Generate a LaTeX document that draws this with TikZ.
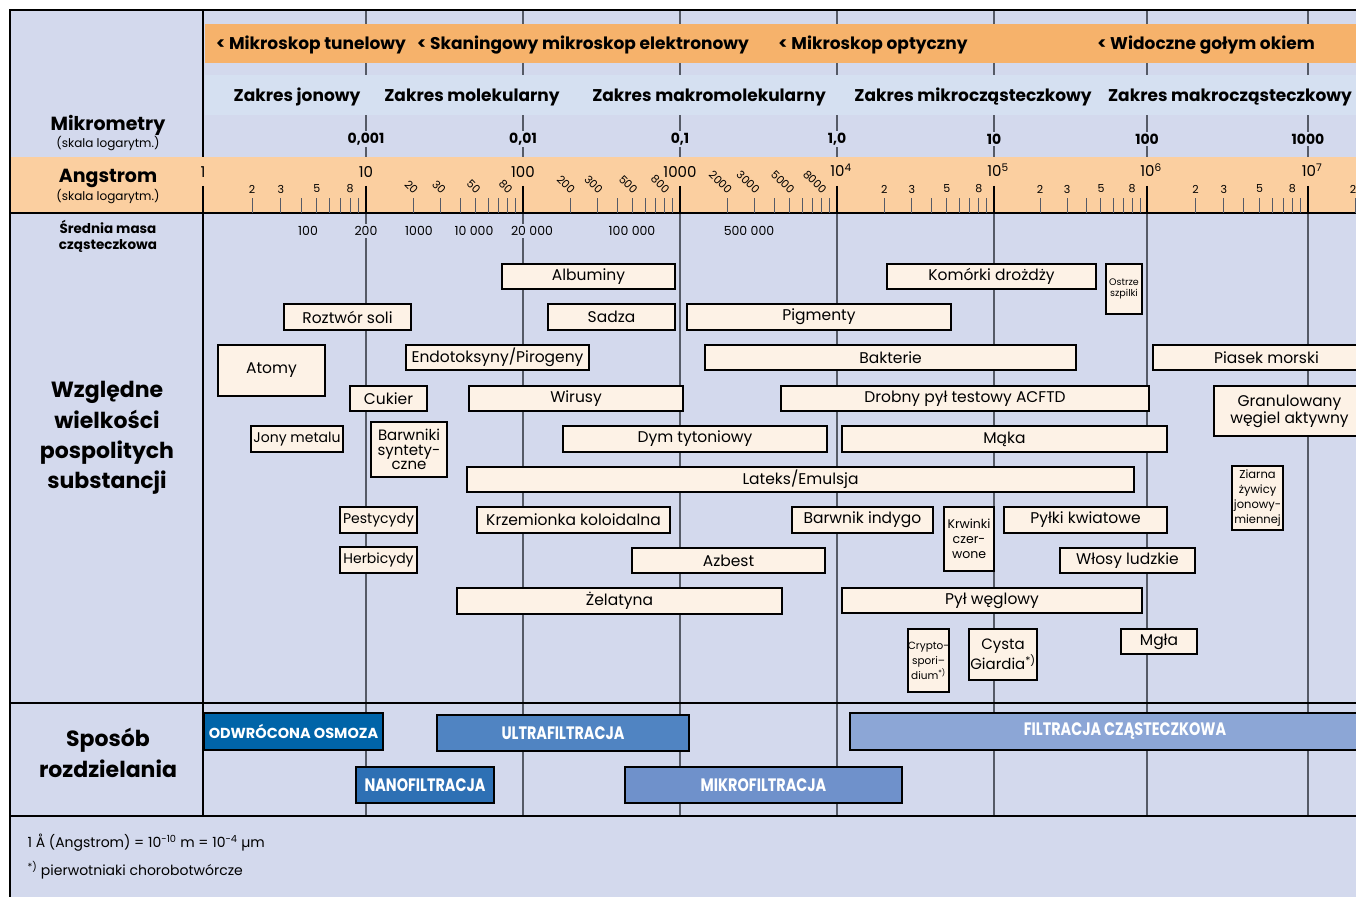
\documentclass[tikz,border=0pt]{standalone}
\usepackage{fontspec}
\setmainfont{Poppins}
\newfontfamily\sepfont{Poppins}[FakeStretch=0.8]
\usetikzlibrary{positioning}

\definecolor{bgblue}{HTML}{D3D9ED}
\definecolor{bandorange}{HTML}{F6B26B}
\definecolor{bandlight}{HTML}{D5E0F1}
\definecolor{bandangstrom}{HTML}{FBCFA0}
\definecolor{cream}{HTML}{FDF2E6}
\definecolor{linegray}{HTML}{555A66}
\definecolor{osmoza}{HTML}{0064A8}
\definecolor{nano}{HTML}{2E70B4}
\definecolor{ultra}{HTML}{5084C2}
\definecolor{mikro}{HTML}{6F91CB}
\definecolor{filtr}{HTML}{8CA6D6}

\tikzset{
  substbox/.style={draw=black, line width=1.5pt, fill=cream, inner sep=0pt,
    align=center, font=\fontsize{15.5}{17}\selectfont},
  sepbox/.style={draw=black, line width=1.5pt, inner sep=0pt, text=white,
    font=\sepfont\bfseries\fontsize{18}{20}\selectfont},
  decline/.style={draw=linegray, line width=1.1pt},
  majortick/.style={draw=black, line width=1.6pt},
  subtick/.style={draw=linegray, line width=1pt},
  headlbl/.style={font=\bfseries\fontsize{17}{20}\selectfont},
  mikrolbl/.style={font=\bfseries\fontsize{14}{16}\selectfont, fill=bgblue, inner sep=2pt},
  angstlbl/.style={font=\fontsize{15}{16}\selectfont, inner sep=0pt},
  sublbl/.style={font=\fontsize{11}{12}\selectfont, inner sep=0pt},
  masslbl/.style={font=\fontsize{12.5}{14}\selectfont, fill=bgblue, inner sep=2pt},
  sidelbl/.style={font=\bfseries\fontsize{19}{21}\selectfont, align=center},
  sidesmall/.style={font=\fontsize{12}{14}\selectfont},
  notelbl/.style={font=\fontsize{14}{16}\selectfont, anchor=west}
}

% box from corners: [options]{name}{x1}{y1}{x2}{y2}{text}
\newcommand{\subst}[7][]{%
  \pgfmathsetmacro\bw{#5-#3}\pgfmathsetmacro\bh{#6-#4}%
  \node[substbox, minimum width=\bw pt, minimum height=\bh pt, #1]
    (#2) at ({(#3+#5)/2},{(#4+#6)/2}) {#7};}
\newcommand{\sepa}[7][]{%
  \pgfmathsetmacro\bw{#5-#3}\pgfmathsetmacro\bh{#6-#4}%
  \node[sepbox, minimum width=\bw pt, minimum height=\bh pt, #1]
    (#2) at ({(#3+#5)/2},{(#4+#6)/2}) {#7};}

\begin{document}
\begin{tikzpicture}[x=1pt,y=-1pt]
  \useasboundingbox (0,0) rectangle (1356,896);
  \clip (0,0) rectangle (1356,896);
  \fill[white] (0,0) rectangle (1356,896);
  \fill[bgblue] (10,10) rectangle (1400,920);

  % decade lines
  \draw[line width=1.5pt] (203,10) -- (203,816);
  \foreach \d in {366,523,680,837,994,1147,1308}
    \draw[decline] (\d,10) -- (\d,816);

  % bands
  \fill[bandorange] (205,24) rectangle (1400,63);
  \fill[bandlight] (205,75) rectangle (1400,115);
  \fill[bandangstrom] (10,157) rectangle (1400,213);

  % frame and rules
  \draw[line width=1.5pt] (10,920) -- (10,10) -- (1400,10);
  \draw[line width=1.2pt] (10,213) -- (1400,213);
  \draw[line width=1.2pt] (10,703) -- (1400,703);
  \draw[line width=1.2pt] (10,816) -- (1400,816);

  % microscopes and ranges
  \node[headlbl] (tunel) at (311,45) {< Mikroskop tunelowy};
  \node[headlbl] (skan) at (583,45) {< Skaningowy mikroskop elektronowy};
  \node[headlbl] (opt) at (873,45) {< Mikroskop optyczny};
  \node[headlbl] (oko) at (1206,45) {< Widoczne gołym okiem};
  \node[headlbl] (jon) at (297,97) {Zakres jonowy};
  \node[headlbl] (mol) at (472,97) {Zakres molekularny};
  \node[headlbl] (makromol) at (709,97) {Zakres makromolekularny};
  \node[headlbl] (mikrocz) at (973,97) {Zakres mikrocząsteczkowy};
  \node[headlbl] (makrocz) at (1230,97) {Zakres makrocząsteczkowy};

  % micrometres
  \foreach \d/\t [count=\i] in {366/{0,001},523/{0,01},680/{0,1},837/{1,0},994/10,1147/100,1308/1000}
    \node[mikrolbl] (um\i) at (\d,139) {\t};

  % angstrom scale
  \foreach \d/\w [count=\k] in {203/163,366/157,523/157,680/157,837/157,994/153,1147/161,1308/158}
    \foreach \m in {2,...,9}
      \draw[subtick] ({\d+\w*ln(\m)/ln(10)},198) -- ({\d+\w*ln(\m)/ln(10)},213);
  \foreach \d in {203,366,523,680,837,994,1147,1308}
    \draw[majortick] (\d,186) -- (\d,213);
  \foreach \d/\w [count=\k] in {203/163,837/157,994/153,1147/161}
    \foreach \m in {2,3,5,8}
      \node[sublbl] (s\k-\m) at ({\d+\w*ln(\m)/ln(10)},189) {\m};
  \node[sublbl] (s5-2) at (1353,189) {2};
  \foreach \d/\w/\z [count=\k] in {366/157/0,523/157/00,680/157/000}
    \foreach \m in {2,3,5,8}
      \node[sublbl, rotate=-45, anchor=east] (r\k-\m) at ({\d+\w*ln(\m)/ln(10)+3},192) {\m\z};
  \node[angstlbl] (a0) at (203,172) {1};
  \node[angstlbl] (a1) at (366,172) {10};
  \node[angstlbl] (a2) at (523,172) {100};
  \node[angstlbl] (a3) at (680,172) {1000};
  \foreach \d/\e in {837/4,994/5,1147/6,1308/7}
    \node[angstlbl] (a\e) at (\d+4,170) {10\textsuperscript{\e}};

  % molecular mass
  \foreach \x/\t [count=\i] in {308/100,366/200,419/1000,474/10 000,532/20 000,632/100 000,749/500 000}
    \node[masslbl] (m\i) at (\x,231) {\t};

  % side labels
  \node[sidelbl] (mikrometry) at (108,125) {Mikrometry};
  \node[sidesmall] (skala1) at (108,144) {(skala logarytm.)};
  \node[sidelbl] (angstrom) at (108,178) {Angstrom};
  \node[sidesmall] (skala2) at (108,197) {(skala logarytm.)};
  \node[sidelbl, font=\bfseries\fontsize{13.5}{16}\selectfont] (masa) at (108,236) {Średnia masa\\cząsteczkowa};
  \node[sidelbl, font=\bfseries\fontsize{22}{30.3}\selectfont] (wzgl) at (107,438) {Względne\\wielkości\\pospolitych\\substancji};
  \node[sidelbl, font=\bfseries\fontsize{22}{31}\selectfont] (sposob) at (108,753) {Sposób\\rozdzielania};

  % substances
  \subst{albuminy}{502}{264}{675}{289}{Albuminy}
  \subst{drozdze}{887}{264}{1096}{289}{Komórki drożdży}
  \subst[font=\fontsize{9.5}{10.5}\selectfont]{szpilka}{1106}{264}{1142}{314}{Ostrze\\szpilki}
  \subst{sol}{284}{304}{411}{330}{Roztwór soli}
  \subst{sadza}{548}{304}{675}{330}{Sadza}
  \subst{pigmenty}{687}{304}{951}{330}{Pigmenty}
  \subst{atomy}{218}{345}{325}{396}{Atomy}
  \subst{endotoksyny}{406}{345}{589}{370}{Endotoksyny/Pirogeny}
  \subst{bakterie}{705}{345}{1076}{370}{Bakterie}
  \subst{piasek}{1153}{345}{1380}{370}{Piasek morski}
  \subst{cukier}{350}{386}{427}{411}{Cukier}
  \subst{wirusy}{469}{386}{683}{411}{Wirusy}
  \subst{acftd}{781}{386}{1149}{411}{Drobny pył testowy ACFTD}
  \subst[font=\fontsize{15.5}{17}\selectfont]{wegiel}{1214}{386}{1365}{436}{Granulowany\\węgiel aktywny}
  \subst[font=\fontsize{14}{16}\selectfont]{jony}{251}{426}{343}{452}{Jony metalu}
  \subst[font=\fontsize{15}{14.5}\selectfont]{barwniki}{371}{422}{447}{477}{Barwniki\\syntety-\\czne}
  \subst{dym}{563}{426}{827}{452}{Dym tytoniowy}
  \subst{maka}{842}{426}{1167}{452}{Mąka}
  \subst{lateks}{467}{467}{1134}{492}{Lateks/Emulsja}
  \subst[font=\fontsize{11.5}{15}\selectfont]{ziarna}{1232}{466}{1283}{530}{Ziarna\\żywicy\\jonowy-\\miennej}
  \subst[font=\fontsize{14}{16}\selectfont]{pestycydy}{340}{507}{417}{533}{Pestycydy}
  \subst{krzemionka}{477}{507}{670}{533}{Krzemionka koloidalna}
  \subst{indygo}{792}{507}{933}{533}{Barwnik indygo}
  \subst[font=\fontsize{12.5}{15}\selectfont]{krwinki}{944}{507}{994}{571}{Krwinki\\czer-\\wone}
  \subst{pylki}{1004}{507}{1167}{533}{Pyłki kwiatowe}
  \subst[font=\fontsize{14}{16}\selectfont]{herbicydy}{340}{547}{417}{573}{Herbicydy}
  \subst{azbest}{632}{548}{825}{573}{Azbest}
  \subst{wlosy}{1060}{548}{1195}{573}{Włosy ludzkie}
  \subst{zelatyna}{457}{588}{782}{614}{Żelatyna}
  \subst{pyl}{842}{588}{1142}{613}{Pył węglowy}
  \subst[font=\fontsize{10.5}{15}\selectfont]{crypto}{908}{629}{949}{692}{Crypto-\\spori–\\dium\textsuperscript{*)}}
  \subst[font=\fontsize{15}{18}\selectfont]{giardia}{969}{629}{1037}{680}{Cysta\\Giardia\textsuperscript{*)}}
  \subst{mgla}{1121}{629}{1197}{654}{Mgła}

  % separation methods
  \sepa[fill=osmoza, font=\bfseries\fontsize{14.5}{16}\selectfont]{osmoza}{204}{713}{383}{750}{ODWRÓCONA OSMOZA}
  \sepa[fill=ultra]{ultra}{437}{715}{689}{751}{ULTRAFILTRACJA}
  \sepa[fill=filtr]{filtr}{850}{713}{1400}{750}{FILTRACJA CZĄSTECZKOWA}
  \sepa[fill=nano]{nano}{356}{767}{494}{803}{NANOFILTRACJA}
  \sepa[fill=mikro]{mikro}{625}{767}{902}{803}{MIKROFILTRACJA}

  % notes
  \node[notelbl] (note1) at (24,843) {1 Å (Angstrom) = 10\textsuperscript{-10} m = 10\textsuperscript{-4} µm};
  \node[notelbl] (note2) at (24,870) {\textsuperscript{*)} pierwotniaki chorobotwórcze};
\end{tikzpicture}
\end{document}
